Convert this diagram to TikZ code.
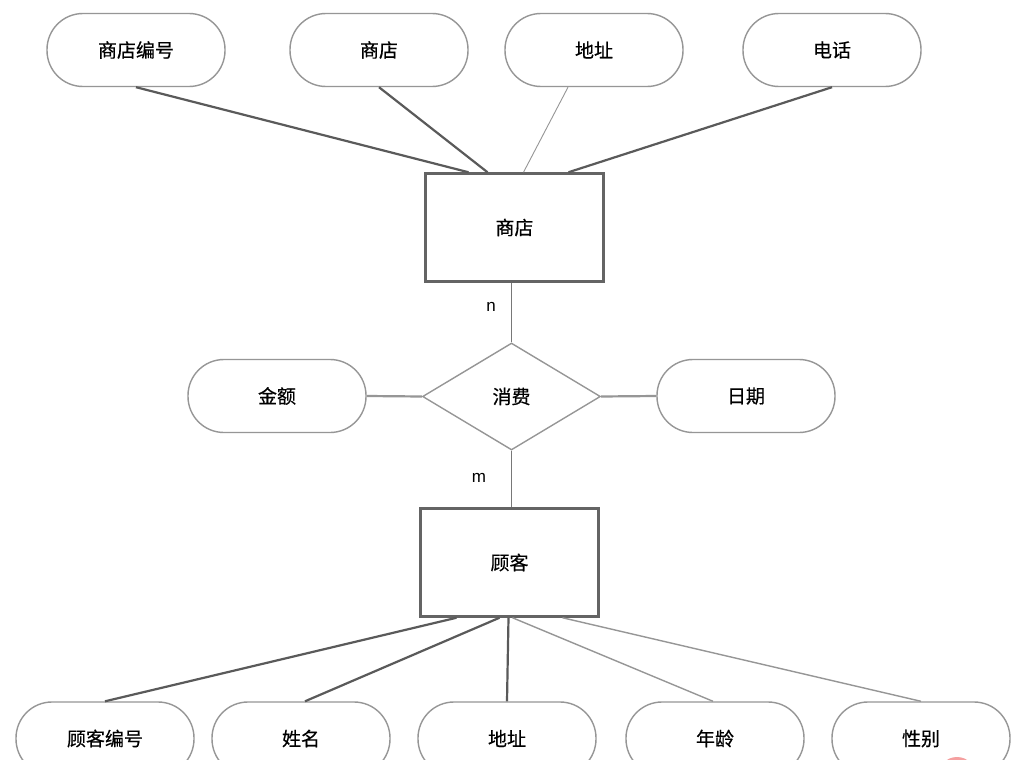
\documentclass[tikz,border=0pt]{standalone}
\usepackage{fontspec}
\newfontfamily\cjk[FakeBold=0.5]{Noto Sans CJK SC}
\newfontfamily\latinsans{Liberation Sans}
\usetikzlibrary{shapes.geometric,calc}
\definecolor{boxline}{RGB}{100,100,100}
\definecolor{attline}{RGB}{150,150,150}
\definecolor{darkline}{RGB}{90,90,90}
\definecolor{lightline}{RGB}{150,150,150}
\definecolor{midline}{RGB}{120,120,120}
\definecolor{stamp}{RGB}{245,160,160}
\tikzset{
  attr/.style={draw=attline, line width=1.4pt, rectangle, rounded corners=36pt,
    minimum width=178pt, minimum height=73pt, inner sep=0pt, font=\cjk\fontsize{19}{19}\selectfont},
  entity/.style={draw=boxline, line width=2.5pt, rectangle, minimum width=178pt,
    minimum height=108pt, inner sep=0pt, font=\cjk\fontsize{19}{19}\selectfont},
  rel/.style={draw=attline, line width=1.4pt, diamond, minimum width=178pt,
    minimum height=107pt, inner sep=0pt, font=\cjk\fontsize{19}{19}\selectfont},
  heavy/.style={draw=darkline, line width=2.2pt},
  thin/.style={draw=lightline, line width=0.9pt},
  medium/.style={draw=midline, line width=1.8pt},
  soft/.style={draw=lightline, line width=1.4pt},
  card/.style={font=\latinsans\fontsize{17}{17}\selectfont}
}
\begin{document}
\begin{tikzpicture}[x=1pt,y=-1pt]
\clip (0,0) rectangle (1034,760);
\fill[white] (0,0) rectangle (1034,760);

% top attributes
\node[attr] (a1) at (136,50) {商店编号};
\node[attr] (a2) at (379,50) {商店};
\node[attr] (a3) at (594,50) {地址};
\node[attr] (a4) at (832,50) {电话};

% store entity
\node[entity] (store) at (514.5,227.5) {商店};

% relationship
\node[rel] (buy) at (511.5,396.5) {消费};
\node[attr] (amt) at (277,396) {金额};
\node[attr] (date) at (746,396) {日期};

% customer entity
\node[entity] (cust) at (509.5,562.5) {顾客};

% bottom attributes
\node[attr] (b1) at (105,738.5) {顾客编号};
\node[attr] (b2) at (301,738.5) {姓名};
\node[attr] (b3) at (507,738.5) {地址};
\node[attr] (b4) at (715,738.5) {年龄};
\node[attr] (b5) at (921,738.5) {性别};

% connectors top
\draw[heavy] (a1.south) -- ($(store.north)+(-46,0)$);
\draw[heavy] (a2.south) -- ($(store.north)+(-27,0)$);
\draw[thin] ($(a3.south)+(-26,0)$) -- ($(store.north)+(9,0)$);
\draw[heavy] (a4.south) -- ($(store.north)+(54,0)$);

% store - relationship - customer
\draw[medium] (store.south -| buy.north) -- (buy.north);
\draw[medium] (buy.south) -- (buy.south |- cust.north);
\draw[soft, line width=2.2pt] (amt.east) -- (buy.west);
\draw[soft, line width=2.2pt] (buy.east) -- (date.west);

\node[card] (n) at (491,307) {n};
\node[card] (m) at (479,478) {m};

% connectors bottom
\draw[heavy] (b1.north) -- ($(cust.south)+(-53,0)$);
\draw[heavy] ($(b2.north)+(4,0)$) -- ($(cust.south)+(-10,0)$);
\draw[heavy] (b3.north) -- ($(cust.south)+(-1,0)$);
\draw[soft] ($(b4.north)+(-2,0)$) -- ($(cust.south)+(3,0)$);
\draw[soft] (b5.north) -- ($(cust.south)+(53,0)$);

% watermark fragment
\fill[stamp] (957,776) circle (19);
\end{tikzpicture}
\end{document}
